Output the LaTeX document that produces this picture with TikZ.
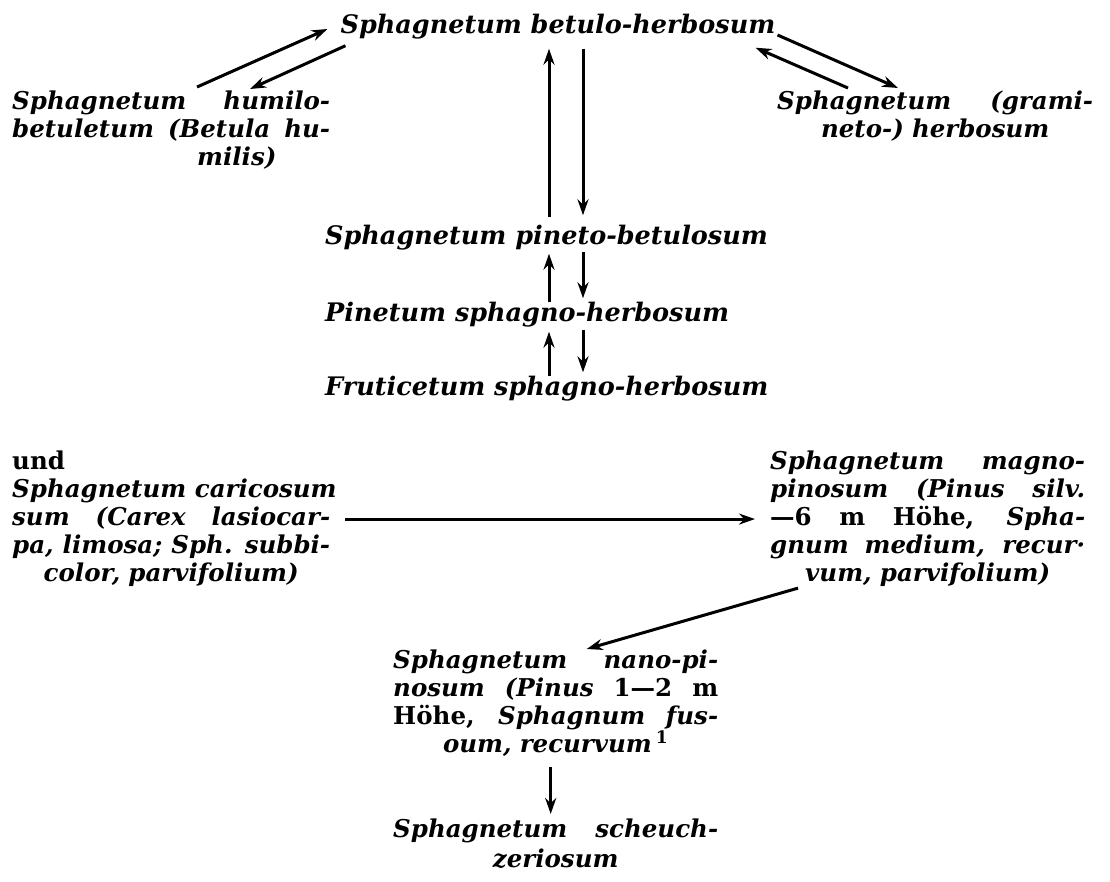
\documentclass[tikz,border=0pt]{standalone}
\usepackage{fontspec}
\setmainfont{DejaVu Serif}
\usepackage{tikz}
\usetikzlibrary{positioning,arrows.meta,calc}
\newcommand{\jline}[1]{\leavevmode\hbox to \linewidth{\spaceskip=.35em plus 1fil\relax #1}}
\tikzset{
  >={Stealth[length=16pt,width=11pt]},
  every node/.style={font=\bfseries\itshape\fontsize{24.5}{28}\selectfont, inner sep=0pt, text=black},
  veg/.style={align=center, font=\bfseries\itshape\fontsize{25.5}{28}\selectfont},
  vegblock/.style={anchor=north west, text width=#1, align=center},
  flow/.style={-{Stealth[length=16pt,width=11pt]}, line width=3pt, draw=black},
}
\begin{document}
\begin{tikzpicture}[x=1pt, y=-1pt]
  \useasboundingbox (0,0) rectangle (1110,881);

  % 1. HÀNG TRÊN CÙNG
  \node[veg] (betulo) at (558,27) {Sphagnetum betulo-herbosum};
  \node[vegblock=318pt] (humilo) at (12,91)
    {\jline{Sphagnetum humilo-}\\
     \jline{betuletum (Betula hu-}\\
     \makebox[\linewidth][l]{\hspace{185pt}milis)}};
  \node[vegblock=316pt] (grami) at (777,91)
    {\jline{Sphagnetum (grami-}\\ neto-) herbosum};

  % 2. CỘT GIỮA
  \node[veg, anchor=west] (pineto) at (325,238) {Sphagnetum pineto-betulosum};
  \node[veg, anchor=west] (pinetum) at (325,315) {Pinetum sphagno-herbosum};
  \node[veg, anchor=west] (fruti) at (325,389) {Fruticetum sphagno-herbosum};

  % 3. PHẦN DƯỚI
  \node[vegblock=318pt] (caric) at (12,451)
    {\makebox[\linewidth][l]{\textup{und}}\\
     \jline{Sphagnetum caricosum}\\
     \jline{sum (Carex lasiocar-}\\
     \jline{pa, limosa; Sph. subbi-}\\
     color, parvifolium)};
  \node[vegblock=315pt] (magno) at (770,451)
    {\jline{Sphagnetum magno-}\\
     \jline{pinosum (Pinus silv.}\\
     \jline{\textup{---6 m Höhe,} Spha-}\\
     \jline{gnum medium, recur·}\\
     vum, parvifolium)};
  \node[vegblock=325pt] (nano) at (393,650)
    {\jline{Sphagnetum nano-pi-}\\
     \jline{nosum (Pinus \textup{1---2 m}}\\
     \jline{\textup{Höhe,} Sphagnum fus-}\\
     oum, recurvum\,\textup{\textsuperscript{1}}};
  \node[vegblock=325pt] (scheuch) at (393,819)
    {\jline{Sphagnetum scheuch-}\\[2pt] zeriosum};

  % ==========================================
  % VẼ CÁC MŨI TÊN
  % ==========================================
  \coordinate (upx) at (549,0);
  \coordinate (dnx) at (583,0);

  % nhánh trái và phải của hàng trên
  \draw[flow] ([shift={(185,-4)}]humilo.north west) -- ([shift={(-13,2)}]betulo.west);
  \draw[flow] ([shift={(5,6)}]betulo.south west) -- ([shift={(238,-2)}]humilo.north west);
  \draw[flow] ([shift={(2,8)}]betulo.east) -- ([shift={(121,-3)}]grami.north west);
  \draw[flow] ([shift={(71,-3)}]grami.north west) -- ([shift={(-20,8)}]betulo.south east);

  % cột giữa: lên và xuống
  \draw[flow, shorten <=8pt, shorten >=9pt] (pineto.north -| upx) -- (betulo.south -| upx);
  \draw[flow, shorten <=9pt, shorten >=10pt] (betulo.south -| dnx) -- (pineto.north -| dnx);
  \draw[flow, shorten <=0pt, shorten >=3pt] (pinetum.north -| upx) -- (pineto.south -| upx);
  \draw[flow, shorten <=1pt, shorten >=4pt] (pineto.south -| dnx) -- (pinetum.north -| dnx);
  \draw[flow, shorten <=0pt, shorten >=4pt] (fruti.north -| upx) -- (pinetum.south -| upx);
  \draw[flow, shorten <=2pt, shorten >=4pt] (pinetum.south -| dnx) -- (fruti.north -| dnx);

  % phần dưới
  \draw[flow, shorten <=15pt, shorten >=15pt] (caric.east) -- (magno.west);
  \draw[flow] ([shift={(28,1)}]magno.south west) -- ([shift={(31,-1)}]nano.north);
  \draw[flow, shorten <=10pt, shorten >=5pt] ([xshift=-5pt]nano.south) -- ([xshift=-5pt]scheuch.north);

\end{tikzpicture}
\end{document}
